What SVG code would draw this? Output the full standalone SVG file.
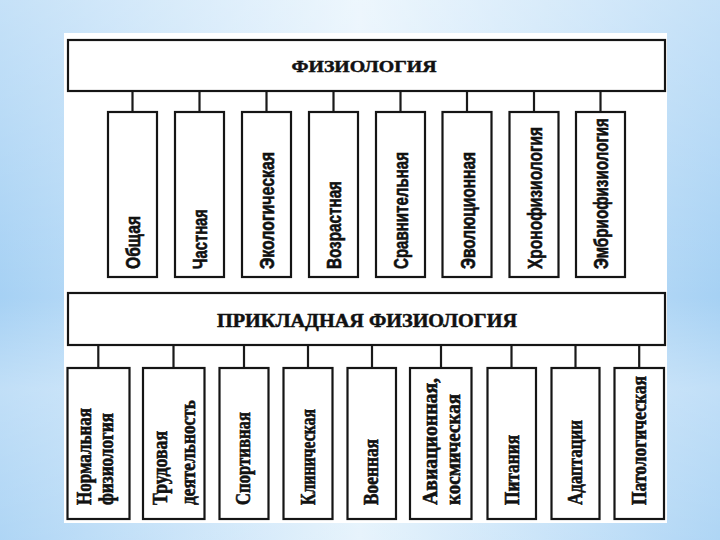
<svg xmlns="http://www.w3.org/2000/svg" width="720" height="540" viewBox="0 0 720 540">
<defs>
<linearGradient id="bgH" x1="0" y1="0" x2="1" y2="0">
<stop offset="0" stop-color="#a6d1f4"/>
<stop offset="0.5" stop-color="#e4f2fc"/>
<stop offset="1" stop-color="#a6d1f4"/>
</linearGradient>
<linearGradient id="bgV" x1="0" y1="0" x2="0" y2="1">
<stop offset="0" stop-color="#ffffff" stop-opacity="0.35"/>
<stop offset="0.55" stop-color="#ffffff" stop-opacity="0"/>
<stop offset="0.72" stop-color="#ffffff" stop-opacity="0.3"/>
<stop offset="1" stop-color="#ffffff" stop-opacity="0.1"/>
</linearGradient>
<style>
.box{fill:#ffffff;stroke:#151515;stroke-width:2.2}
.con line{stroke:#1a1a1a;stroke-width:2.2}
.hd{font-family:"Liberation Serif","Times New Roman",serif;font-weight:bold;fill:#111;stroke:#111;stroke-width:0.5}
.lt{font-family:"Liberation Sans Narrow","Liberation Sans",Arial,sans-serif;font-weight:bold;font-size:20px;fill:#111;stroke:#111;stroke-width:0.6}
.lb{font-family:"Liberation Serif","Times New Roman",serif;font-weight:bold;font-size:20px;fill:#111;stroke:#111;stroke-width:0.6}
</style>
</defs>
<rect x="0" y="0" width="720" height="540" fill="url(#bgH)"/>
<rect x="0" y="0" width="720" height="540" fill="url(#bgV)"/>
<rect x="64" y="33" width="603" height="490" fill="#ffffff"/>

<g id="connectors" class="con">
<line x1="132.5" y1="91" x2="132.5" y2="112"/>
<line x1="199.5" y1="91" x2="199.5" y2="112"/>
<line x1="266.5" y1="91" x2="266.5" y2="112"/>
<line x1="333.5" y1="91" x2="333.5" y2="112"/>
<line x1="400.5" y1="91" x2="400.5" y2="112"/>
<line x1="467" y1="91" x2="467" y2="112"/>
<line x1="534" y1="91" x2="534" y2="112"/>
<line x1="600.5" y1="91" x2="600.5" y2="112"/>
<line x1="98.3" y1="345" x2="98.3" y2="368"/>
<line x1="173.5" y1="345" x2="173.5" y2="368"/>
<line x1="244" y1="345" x2="244" y2="368"/>
<line x1="308" y1="345" x2="308" y2="368"/>
<line x1="372" y1="345" x2="372" y2="368"/>
<line x1="441" y1="345" x2="441" y2="368"/>
<line x1="511.5" y1="345" x2="511.5" y2="368"/>
<line x1="575.5" y1="345" x2="575.5" y2="368"/>
<line x1="639.2" y1="345" x2="639.2" y2="368"/>
</g>

<g id="fiziologiya">
<rect class="box" x="68" y="40" width="597" height="51"/>
<text class="hd" x="291.5" y="72" font-size="17" textLength="145" lengthAdjust="spacingAndGlyphs">ФИЗИОЛОГИЯ</text>
</g>

<g id="obshchaya">
<rect class="box" x="108" y="112" width="49" height="165"/>
<text class="lt" transform="translate(140,269) rotate(-90)" textLength="53" lengthAdjust="spacingAndGlyphs">Общая</text>
</g>
<g id="chastnaya">
<rect class="box" x="175" y="112" width="49" height="165"/>
<text class="lt" transform="translate(207,269) rotate(-90)" textLength="60" lengthAdjust="spacingAndGlyphs">Частная</text>
</g>
<g id="ekologicheskaya">
<rect class="box" x="242" y="112" width="49" height="165"/>
<text class="lt" transform="translate(274,269) rotate(-90)" textLength="117" lengthAdjust="spacingAndGlyphs">Экологическая</text>
</g>
<g id="vozrastnaya">
<rect class="box" x="309" y="112" width="49" height="165"/>
<text class="lt" transform="translate(341,269) rotate(-90)" textLength="88" lengthAdjust="spacingAndGlyphs">Возрастная</text>
</g>
<g id="sravnitelnaya">
<rect class="box" x="376" y="112" width="49" height="165"/>
<text class="lt" transform="translate(408,269) rotate(-90)" textLength="117" lengthAdjust="spacingAndGlyphs">Сравнительная</text>
</g>
<g id="evolyutsionnaya">
<rect class="box" x="442.5" y="112" width="49" height="165"/>
<text class="lt" transform="translate(474.5,269) rotate(-90)" textLength="117" lengthAdjust="spacingAndGlyphs">Эволюционная</text>
</g>
<g id="khronofiziologiya">
<rect class="box" x="509.5" y="112" width="49" height="165"/>
<text class="lt" transform="translate(541.5,269) rotate(-90)" textLength="142" lengthAdjust="spacingAndGlyphs">Хронофизиология</text>
</g>
<g id="embriofiziologiya">
<rect class="box" x="576" y="112" width="49" height="165"/>
<text class="lt" transform="translate(608,269) rotate(-90)" textLength="151" lengthAdjust="spacingAndGlyphs">Эмбриофизиология</text>
</g>

<g id="prikladnaya">
<rect class="box" x="68" y="293" width="597" height="52"/>
<text class="hd" x="217" y="327" font-size="19" textLength="300" lengthAdjust="spacingAndGlyphs">ПРИКЛАДНАЯ ФИЗИОЛОГИЯ</text>
</g>

<g id="normalnaya">
<rect class="box" x="67.5" y="368" width="62" height="151"/>
<text class="lb" transform="translate(90.7,505) rotate(-90)" textLength="97" lengthAdjust="spacingAndGlyphs">Нормальная</text>
<text class="lb" transform="translate(113.3,505) rotate(-90)" textLength="92" lengthAdjust="spacingAndGlyphs">физиология</text>
</g>
<g id="trudovaya">
<rect class="box" x="143" y="368" width="61.5" height="151"/>
<text class="lb" transform="translate(167,505) rotate(-90)" textLength="74" lengthAdjust="spacingAndGlyphs">Трудовая</text>
<text class="lb" transform="translate(195,505) rotate(-90)" textLength="105" lengthAdjust="spacingAndGlyphs">деятельность</text>
</g>
<g id="sportivnaya">
<rect class="box" x="219.5" y="368" width="49" height="151"/>
<text class="lb" transform="translate(250,505) rotate(-90)" textLength="93" lengthAdjust="spacingAndGlyphs">Спортивная</text>
</g>
<g id="klinicheskaya">
<rect class="box" x="283.5" y="368" width="49" height="151"/>
<text class="lb" transform="translate(314.5,505) rotate(-90)" textLength="96" lengthAdjust="spacingAndGlyphs">Клиническая</text>
</g>
<g id="voennaya">
<rect class="box" x="347.5" y="368" width="48.5" height="151"/>
<text class="lb" transform="translate(378,505) rotate(-90)" textLength="66" lengthAdjust="spacingAndGlyphs">Военная</text>
</g>
<g id="aviatsionnaya">
<rect class="box" x="410" y="368" width="61.5" height="151"/>
<text class="lb" transform="translate(436.5,505) rotate(-90)" textLength="127" lengthAdjust="spacingAndGlyphs">Авиационная,</text>
<text class="lb" transform="translate(459.5,505) rotate(-90)" textLength="111" lengthAdjust="spacingAndGlyphs">космическая</text>
</g>
<g id="pitaniya">
<rect class="box" x="487.5" y="368" width="48.5" height="151"/>
<text class="lb" transform="translate(519,505) rotate(-90)" textLength="70" lengthAdjust="spacingAndGlyphs">Питания</text>
</g>
<g id="adaptatsii">
<rect class="box" x="551.5" y="368" width="48" height="151"/>
<text class="lb" transform="translate(582,505) rotate(-90)" textLength="85" lengthAdjust="spacingAndGlyphs">Адаптации</text>
</g>
<g id="patologicheskaya">
<rect class="box" x="614.5" y="368" width="49.5" height="151"/>
<text class="lb" transform="translate(646,505) rotate(-90)" textLength="129" lengthAdjust="spacingAndGlyphs">Патологическая</text>
</g>
</svg>
